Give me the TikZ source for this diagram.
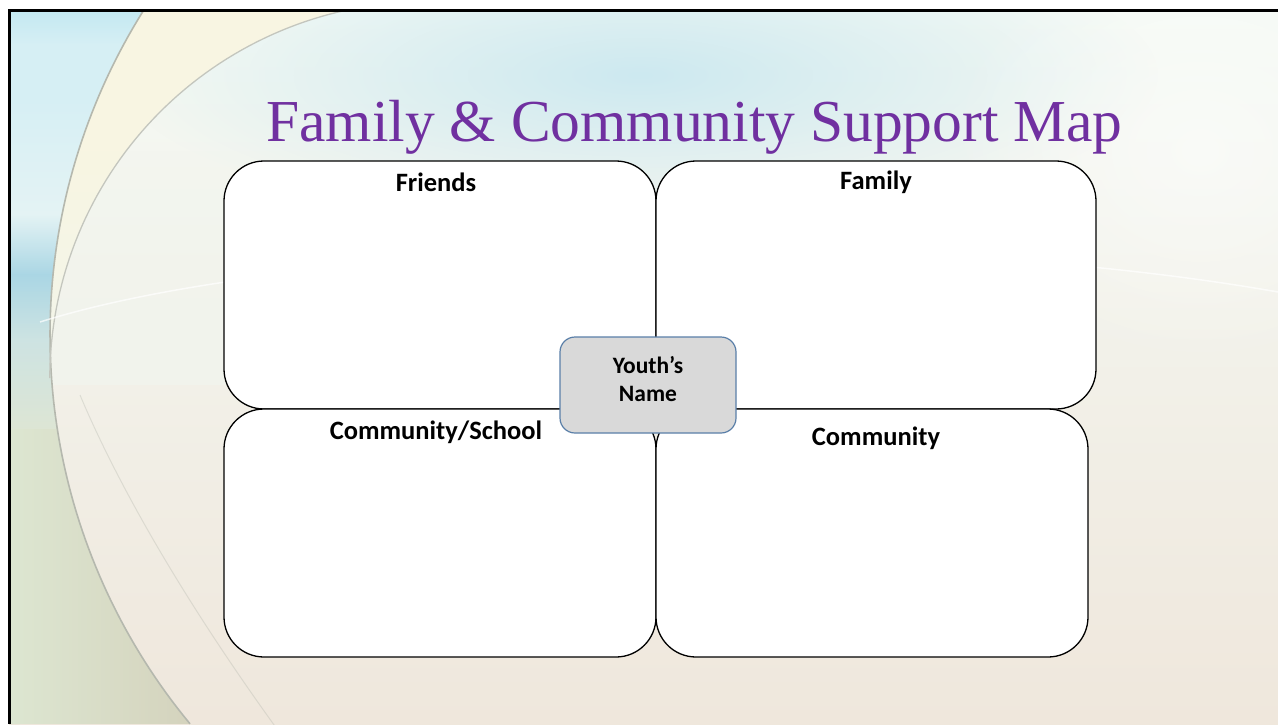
\documentclass[tikz,border=0pt]{standalone}
\usepackage{fontspec}
\setmainfont{Carlito}
\newfontfamily\titlefont{Liberation Serif}
\usetikzlibrary{fadings}
\tikzfading[name=softglow, inner color=transparent!0, outer color=transparent!100]
\definecolor{titlepurple}{HTML}{7030A0}
\definecolor{centerfill}{HTML}{D9D9D9}
\definecolor{centerline}{HTML}{5A7FA8}
\definecolor{bgtop}{HTML}{F5FAF5}
\definecolor{bgmid}{HTML}{F2EEE4}
\definecolor{bgbot}{HTML}{EFE7DC}
\definecolor{glow}{HTML}{CDE9F0}
\definecolor{creamtop}{HTML}{F8F5E2}
\definecolor{creambot}{HTML}{F1F5EE}
\definecolor{arcgray}{HTML}{B5B8AE}
\definecolor{sa}{RGB}{190,230,240}
\definecolor{sb}{RGB}{214,239,244}
\definecolor{sc}{RGB}{228,243,244}
\definecolor{sd}{RGB}{170,214,228}
\definecolor{se}{RGB}{205,227,226}
\definecolor{sf}{RGB}{221,229,212}
\definecolor{sg}{RGB}{221,231,210}
\definecolor{sh}{RGB}{212,210,188}
\begin{document}
\begin{tikzpicture}[x=1pt,y=-1pt,
  quad/.style={draw=black, line width=1.3pt, fill=white, rounded corners=40pt, inner sep=0pt, outer sep=0pt},
  hub/.style={draw=centerline, line width=1.2pt, fill=centerfill, rounded corners=15pt, inner sep=0pt, outer sep=0pt, minimum width=176pt, minimum height=96pt},
  lab/.style={anchor=base, font=\bfseries\fontsize{26.5}{30}\selectfont, inner sep=0pt},
  hublab/.style={anchor=base, font=\bfseries\fontsize{23.5}{28}\selectfont, inner sep=0pt}]
\useasboundingbox (0,0) rectangle (1278,724);
\fill[white] (0,0) rectangle (1278,724);
% ---------- background ----------
\begin{scope}
\clip (9,10.5) rectangle (1278,724);
\shade[top color=bgtop, middle color=bgmid, bottom color=bgbot] (9,10) rectangle (1278,724);
\fill[glow, path fading=softglow] (640,75) ellipse[x radius=520, y radius=150];
\fill[white, opacity=0.5, path fading=softglow] (1200,150) ellipse[x radius=260, y radius=220];
% cream band between the two arcs
\begin{scope}
\clip (660,335) circle[radius=610];
\clip (9,10) rectangle (350,385);
\fill[creamtop, even odd rule] (0,0) rectangle (400,400) (426.5,378.2) circle[radius=376.7];
\fill[creambot, opacity=0.8, path fading=north] (0,150) rectangle (400,385);
\end{scope}
% left strip outside the outer arc
\begin{scope}
\clip (9,724) -- plot[domain=140.4:212.2, samples=80, variable=\t] ({660+610*cos(\t)},{335+610*sin(\t)}) -- (9,10) -- cycle;
\shade[top color=sa, bottom color=sb] (0,0) rectangle (220,45);
\fill[sb] (0,44) rectangle (220,100);
\shade[top color=sb, bottom color=sc] (0,99) rectangle (220,215);
\shade[top color=sc, bottom color=sd] (0,214) rectangle (220,275);
\shade[top color=sd, bottom color=se] (0,274) rectangle (220,340);
\shade[top color=se, bottom color=sf] (0,339) rectangle (220,430);
\shade[left color=sg, right color=sh] (0,429) rectangle (200,724);
\end{scope}
% arcs and faint lines
\draw[arcgray, line width=1.6pt] plot[domain=140.4:212.2, samples=80, variable=\t] ({660+610*cos(\t)},{335+610*sin(\t)});
\draw[arcgray!80, line width=1.3pt] plot[domain=180:257.8, samples=60, variable=\t] ({426.5+376.7*cos(\t)},{378.2+376.7*sin(\t)});
\draw[white, opacity=0.7, line width=1.5pt] (40,322) .. controls (300,240) and (900,225) .. (1278,292);
\draw[arcgray, opacity=0.35, line width=1pt] (80,395) .. controls (120,490) and (190,610) .. (285,740);
\end{scope}
% frame
\draw[black, line width=3pt] (9,10.5) -- (1278,10.5);
\draw[black, line width=3pt] (9,9) -- (9,724);
% ---------- title ----------
\node[anchor=base, inner sep=0pt, text=titlepurple, font=\titlefont\fontsize{59.5}{70}\selectfont] (title) at (694.5,141) {Family \& Community Support Map};
% ---------- quadrants ----------
\node[quad, minimum width=432pt, minimum height=248pt] (friends) at (440,285) {};
\node[quad, minimum width=440pt, minimum height=248pt] (family) at (876,285) {};
\node[quad, minimum width=432pt, minimum height=248pt] (school) at (440,533) {};
\node[quad, minimum width=432pt, minimum height=248pt] (community) at (872,533) {};
\node[lab] (friendslab) at (436,191.5) {Friends};
\node[lab] (familylab) at (876,189.5) {Family};
\node[lab] (schoollab) at (436,439.5) {Community/School};
\node[lab] (communitylab) at (876,445.5) {Community};
% ---------- centre ----------
\node[hub] (youth) at (648,385) {};
\node[hublab] (youthlab1) at (648,373.5) {Youth’s};
\node[hublab] (youthlab2) at (648,401) {Name};
\end{tikzpicture}
\end{document}
